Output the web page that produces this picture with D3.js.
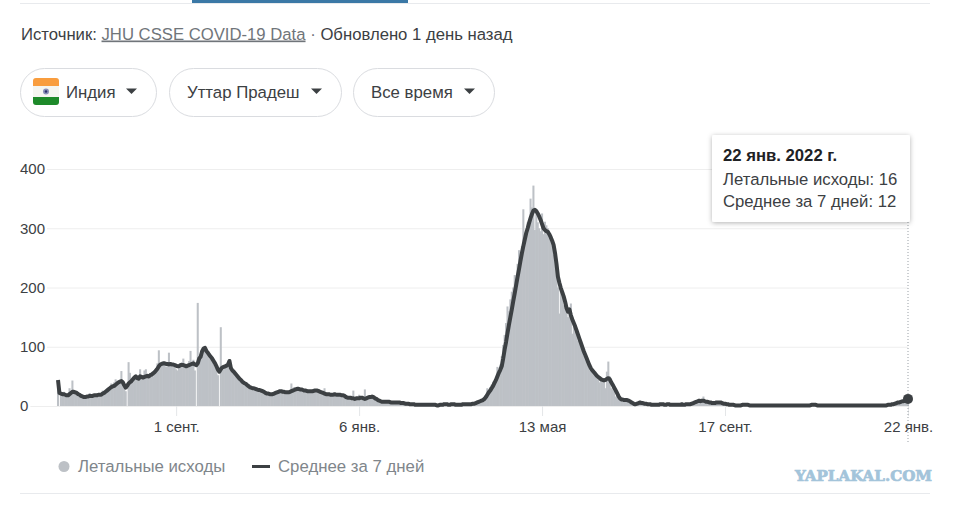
<!DOCTYPE html>
<html>
<head>
<meta charset="utf-8">
<script src="https://cdn.jsdelivr.net/npm/d3@7"></script>
<style>
  html, body { margin: 0; padding: 0; background: #fff; overflow: hidden; }
  text { font-family: "Liberation Sans", Arial, sans-serif; }
</style>
</head>
<body>
<script>
// first day of the series, one value per day up to 22 jan 2022
var startDay = Date.UTC(2020, 5, 11);

var deaths = [
  42,0,18,20,24,20,17,20,30,25,
  43,22,21,20,18,16,15,20,14,16,
  17,15,22,18,16,19,17,21,16,20,
  18,26,22,25,24,30,28,38,36,40,
  45,35,38,42,59,36,30,25,0,74,
  56,40,42,50,48,44,52,62,50,46,
  60,62,52,48,55,56,50,60,64,72,
  94,72,68,74,70,66,72,90,68,70,
  66,72,62,60,70,68,74,80,66,64,
  70,76,93,72,78,60,0,174,82,88,
  92,100,94,90,84,80,86,78,70,66,
  60,52,0,133,65,62,68,66,70,78,
  58,56,56,50,50,46,42,42,36,38,
  36,40,30,32,28,30,28,32,26,26,
  28,24,26,22,22,20,22,18,22,18,
  22,24,20,26,24,26,22,24,20,24,
  25,22,38,30,32,26,28,30,26,28,
  24,26,28,22,24,26,24,28,26,24,
  25,28,20,22,24,30,22,18,22,20,
  18,20,22,16,18,20,18,16,20,15,
  14,16,12,14,12,26,12,14,12,19,
  12,14,10,28,12,14,18,14,16,12,
  14,10,9,8,8,7,8,6,8,6,
  7,6,7,5,7,6,5,6,5,6,
  5,4,5,3,3,4,3,3,2,3,
  2,3,2,2,1,3,2,2,1,3,
  2,2,3,1,1,2,3,1,4,3,
  3,2,4,5,2,3,2,3,2,1,
  2,3,3,4,2,3,5,4,6,5,
  5,6,8,10,9,11,12,14,30,24,
  32,36,41,40,48,66,60,70,84,103,
  120,140,168,160,180,193,200,221,215,240,
  263,250,270,332,280,295,310,305,350,335,
  372,297,330,310,300,295,325,290,311,305,
  300,288,280,275,255,260,220,200,156,205,
  190,170,180,160,150,165,173,122,140,125,
  130,110,105,100,95,85,88,75,72,60,
  60,55,52,58,48,44,40,46,42,40,
  30,58,75,50,30,28,34,16,20,12,
  12,9,13,10,8,12,7,6,6,4,
  2,3,5,6,7,4,5,3,5,2,
  3,4,2,1,3,2,1,3,4,2,
  3,1,3,4,2,3,1,2,3,1,
  2,3,1,4,2,1,5,3,4,2,
  4,5,7,6,10,9,12,8,16,7,
  6,9,5,7,4,6,5,8,5,7,
  6,4,5,3,4,3,2,3,1,2,
  1,2,1,1,0,3,2,1,2,3,
  1,2,1,0,2,1,1,2,0,1,
  2,1,0,1,1,2,1,0,1,1,
  0,1,2,1,0,1,1,0,2,1,
  1,0,1,1,2,0,1,1,0,1,
  1,2,3,2,3,2,1,1,2,1,
  0,1,1,0,1,2,1,0,1,1,
  1,0,2,1,1,0,1,1,2,0,
  1,1,0,1,1,2,1,0,1,1,
  0,1,1,2,1,0,1,1,0,1,
  1,2,0,1,1,1,2,3,2,3,
  3,5,6,7,5,8,9,7,10,12,
  16
];

var average = [
  44,22,21,20,20,19,18,18,20,22,
  24,24,23,22,20,19,17,16,15,15,
  16,16,17,17,17,18,18,18,19,19,
  19,21,22,24,26,28,30,32,33,34,
  36,38,40,41,42,40,35,31,34,38,
  40,42,45,48,50,47,46,50,49,48,
  49,50,51,50,52,53,55,57,60,63,
  67,70,71,72,72,71,71,70,71,70,
  70,69,68,67,67,69,69,69,68,67,
  68,69,70,71,72,70,69,72,80,83,
  92,97,98,93,90,86,83,80,76,72,
  67,61,58,62,65,66,67,68,70,76,
  64,60,58,55,52,49,46,44,41,39,
  38,36,34,32,31,30,30,29,28,27,
  27,26,25,24,22,21,21,20,20,20,
  21,22,23,24,25,25,24,24,23,23,
  23,24,25,26,27,28,29,29,28,28,
  27,26,26,25,25,25,25,25,26,26,
  26,25,24,23,22,21,20,20,20,19,
  19,19,20,19,19,19,19,18,18,17,
  15,14,14,14,13,13,12,13,13,13,
  14,14,13,12,13,14,15,15,16,15,
  13,12,10,9,8,7,7,7,7,7,
  7,6,6,6,6,6,6,6,5,5,
  5,4,4,4,3,3,3,3,2,2,
  2,2,2,2,2,2,2,2,2,2,
  2,2,2,1,1,2,2,2,3,3,
  3,2,2,3,3,3,2,2,2,2,
  2,3,3,3,3,3,3,3,4,4,
  5,6,7,8,9,10,12,15,19,23,
  26,30,34,39,44,50,56,61,67,80,
  95,108,123,137,150,163,177,190,204,218,
  231,245,258,270,281,292,300,309,317,324,
  330,331,329,325,320,314,307,300,297,295,
  294,290,285,279,272,258,240,218,208,199,
  192,185,176,165,159,163,153,146,140,134,
  127,120,113,106,99,92,86,80,74,68,
  63,60,57,54,51,49,47,45,44,43,
  44,46,47,45,40,36,31,27,22,17,
  13,11,11,10,10,10,9,8,6,5,
  3,3,4,5,6,5,5,4,4,3,
  3,3,2,2,2,2,2,2,3,3,
  3,2,2,3,3,2,2,2,2,2,
  2,2,2,3,2,2,3,3,3,3,
  4,5,6,7,8,9,8,9,9,8,
  7,7,6,6,5,5,5,6,6,6,
  6,5,4,4,3,3,2,2,2,2,
  1,1,1,1,1,2,2,2,2,2,
  1,1,1,1,1,1,1,1,1,1,
  1,1,1,1,1,1,1,1,1,1,
  1,1,1,1,1,1,1,1,1,1,
  1,1,1,1,1,1,1,1,1,1,
  1,1,1,2,2,2,2,1,1,1,
  1,1,1,1,1,1,1,1,1,1,
  1,1,1,1,1,1,1,1,1,1,
  1,1,1,1,1,1,1,1,1,1,
  1,1,1,1,1,1,1,1,1,1,
  1,1,1,1,1,1,2,2,2,3,
  3,4,5,6,6,7,8,8,9,11,
  12
];

var yTicks = [0, 100, 200, 300, 400];
var xTickDates = [Date.UTC(2020, 8, 1), Date.UTC(2021, 0, 6), Date.UTC(2021, 4, 13), Date.UTC(2021, 8, 17), Date.UTC(2022, 0, 22)];
var xTickLabels = ["1 сент.", "6 янв.", "13 мая", "17 сент.", "22 янв."];
var filters = ["Индия", "Уттар Прадеш", "Все время"];
var tooltipLines = ["22 янв. 2022 г.", "Летальные исходы: 16", "Среднее за 7 дней: 12"];

var width = 958, height = 505;
var dayMs = 86400000;

var svg = d3.select("body").append("svg")
    .attr("width", width)
    .attr("height", height)
    .style("display", "block");

var defs = svg.append("defs");
var shadow = defs.append("filter").attr("id", "shadow")
    .attr("x", "-10%").attr("y", "-10%").attr("width", "120%").attr("height", "125%");
shadow.append("feDropShadow")
    .attr("dx", 0).attr("dy", 1).attr("stdDeviation", 2.5)
    .attr("flood-color", "#000").attr("flood-opacity", 0.3);

// top tab strip
svg.append("line").attr("x1", 20).attr("x2", 930).attr("y1", 3.5).attr("y2", 3.5)
    .attr("stroke", "#e8eaed");
svg.append("rect").attr("x", 192).attr("y", 0).attr("width", 216).attr("height", 3)
    .attr("fill", "#3b78a6");

// source line
var source = svg.append("text").attr("x", 21).attr("y", 39.5)
    .attr("font-size", 16.7).attr("fill", "#3c4043");
source.append("tspan").text("Источник: ");
source.append("tspan").text("JHU CSSE COVID-19 Data")
    .attr("fill", "#70757a").attr("text-decoration", "underline");
source.append("tspan").text(" · ").attr("fill", "#70757a");
source.append("tspan").text("Обновлено 1 день назад");

// filter pills
var pillBoxes = [[20, 136, 66], [169, 172, 187], [353, 141, 371]];
var pills = svg.selectAll("g.pill").data(filters).enter().append("g").attr("class", "pill");
pills.append("rect")
    .attr("x", function(d, i) { return pillBoxes[i][0] + 0.5; })
    .attr("y", 68.5)
    .attr("width", function(d, i) { return pillBoxes[i][1]; })
    .attr("height", 48)
    .attr("rx", 24)
    .attr("fill", "#fff")
    .attr("stroke", "#dadce0");
pills.append("text")
    .attr("x", function(d, i) { return pillBoxes[i][2]; })
    .attr("y", 98)
    .attr("font-size", 16.8)
    .attr("fill", "#3c4043")
    .text(function(d) { return d; });
pills.append("path")
    .attr("d", function(d, i) {
      var r = pillBoxes[i][0] + pillBoxes[i][1] - 19;
      return "M" + (r - 11) + ",88.5 h11 l-5.5,5.5 z";
    })
    .attr("fill", "#3c4043");

// flag
var flag = svg.append("g");
flag.append("rect").attr("x", 33).attr("y", 78).attr("width", 26).attr("height", 27).attr("rx", 3).attr("fill", "#f5f5f0");
flag.append("path").attr("d", "M33,86 v-5 a3,3 0 0 1 3,-3 h20 a3,3 0 0 1 3,3 v5 z").attr("fill", "#f99d3e");
flag.append("path").attr("d", "M33,97 v5 a3,3 0 0 0 3,3 h20 a3,3 0 0 0 3,-3 v-5 z").attr("fill", "#1e8a2a");
flag.append("circle").attr("cx", 46).attr("cy", 91.5).attr("r", 3).attr("fill", "#8a8fb8");
flag.append("circle").attr("cx", 46).attr("cy", 91.5).attr("r", 1.2).attr("fill", "#2c2f6e");

// scales
var x = d3.scaleUtc()
    .domain([startDay, startDay + (deaths.length - 1) * dayMs])
    .range([58, 908]);
var y = d3.scaleLinear().domain([0, 400]).range([406, 169]);

// y axis, the grid lines stop just after their label
var yAxis = svg.append("g")
    .attr("transform", "translate(908,0)")
    .call(d3.axisLeft(y).tickValues(yTicks).tickSize(0).tickPadding(0));
yAxis.select(".domain").remove();
yAxis.selectAll("text")
    .attr("x", 20 - 908)
    .attr("text-anchor", "start")
    .attr("font-size", 15)
    .attr("font-family", "Liberation Sans")
    .attr("fill", "#3c4043");
yAxis.selectAll(".tick").each(function() {
  var g = d3.select(this);
  var w = g.select("text").node().getComputedTextLength();
  g.select("line")
    .attr("x1", 0)
    .attr("x2", 20 - 908 + w + 2)
    .attr("stroke", "#eeeeee");
});

// x axis
var xAxis = svg.append("g")
    .attr("transform", "translate(0,406)")
    .call(d3.axisBottom(x)
      .tickValues(xTickDates)
      .tickSize(10)
      .tickPadding(5)
      .tickFormat(function(d, i) { return xTickLabels[i]; }));
xAxis.select(".domain").remove();
xAxis.selectAll("line").attr("stroke", "#e4e6e8");
xAxis.selectAll("text")
    .attr("font-size", 15)
    .attr("font-family", "Liberation Sans")
    .attr("fill", "#3c4043");

// bars, a bit wider than a day so neighbours close up
var barWidth = (x(startDay + dayMs) - x(startDay)) + 0.6;
svg.append("g").selectAll("rect").data(deaths).enter().append("rect")
    .attr("x", function(d, i) { return x(startDay + i * dayMs) - barWidth / 2; })
    .attr("y", function(d) { return y(d); })
    .attr("width", barWidth)
    .attr("height", function(d) { return y(0) - y(d); })
    .attr("fill", "#bdc1c6");

// 7 day average
var line = d3.line()
    .x(function(d, i) { return x(startDay + i * dayMs); })
    .y(function(d) { return y(d); });
svg.append("path").datum(average)
    .attr("d", line)
    .attr("fill", "none")
    .attr("stroke", "#3c4043")
    .attr("stroke-width", 4)
    .attr("stroke-linejoin", "round");

// hover marker
var lastX = x(startDay + (average.length - 1) * dayMs);
svg.append("line")
    .attr("x1", lastX).attr("x2", lastX)
    .attr("y1", 222).attr("y2", 444)
    .attr("stroke", "#9aa0a6")
    .attr("stroke-dasharray", "1,2");
svg.append("circle")
    .attr("cx", lastX)
    .attr("cy", y(average[average.length - 1]))
    .attr("r", 5)
    .attr("fill", "#3c4043");

// tooltip
svg.append("rect")
    .attr("x", 712).attr("y", 135).attr("width", 198).attr("height", 87).attr("rx", 2)
    .attr("fill", "#fff")
    .attr("filter", "url(#shadow)");
svg.append("g").selectAll("text").data(tooltipLines).enter().append("text")
    .attr("x", 723)
    .attr("y", function(d, i) { return [161, 185, 207][i]; })
    .attr("font-size", 16.7)
    .attr("font-weight", function(d, i) { return i === 0 ? "bold" : "normal"; })
    .attr("fill", function(d, i) { return i === 0 ? "#202124" : "#3c4043"; })
    .text(function(d) { return d; });

// legend
svg.append("circle").attr("cx", 64).attr("cy", 466.5).attr("r", 5.5).attr("fill", "#bdc1c6");
svg.append("text").attr("x", 78).attr("y", 472).attr("font-size", 16.8).attr("fill", "#80868b")
    .text("Летальные исходы");
svg.append("line").attr("x1", 252).attr("x2", 270).attr("y1", 466.5).attr("y2", 466.5)
    .attr("stroke", "#3c4043").attr("stroke-width", 3);
svg.append("text").attr("x", 278).attr("y", 472).attr("font-size", 16.8).attr("fill", "#80868b")
    .text("Среднее за 7 дней");

// bottom rule
svg.append("line").attr("x1", 20).attr("x2", 930).attr("y1", 493.5).attr("y2", 493.5)
    .attr("stroke", "#e8eaed");

// watermark
svg.append("text").attr("x", 795).attr("y", 481)
    .attr("font-size", 14.5)
    .attr("font-weight", "bold")
    .style("font-family", "DejaVu Serif")
    .attr("textLength", 137)
    .attr("lengthAdjust", "spacingAndGlyphs")
    .attr("fill", "#a3c4da")
    .attr("stroke", "#a3c4da")
    .attr("stroke-width", 0.7)
    .text("YAPLAKAL.COM");
</script>
</body>
</html>
